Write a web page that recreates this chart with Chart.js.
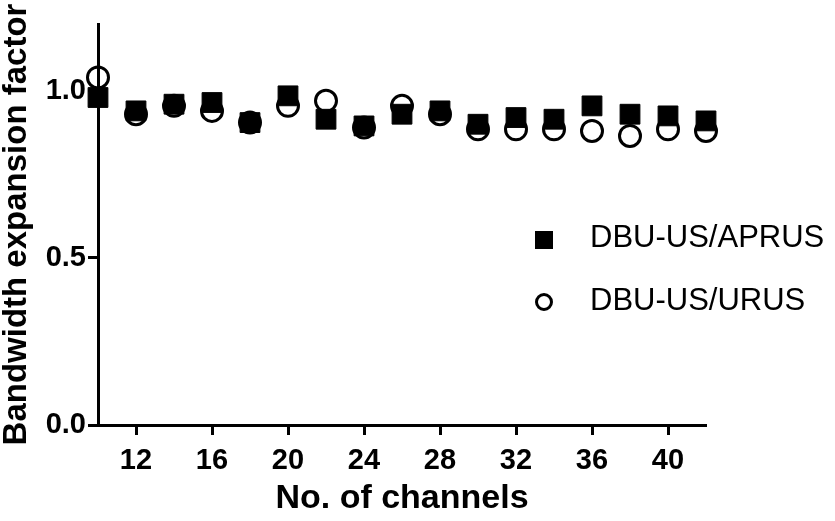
<!DOCTYPE html>
<html>
<head>
<meta charset="utf-8">
<script src="https://cdn.jsdelivr.net/npm/chart.js@4.4.1/dist/chart.umd.min.js"></script>
<style>
  body { margin: 0; background: #fff; }
  #wrap { position: relative; width: 835px; height: 521px; }
  .legend-item { position: absolute; left: 535px; font: 31px "Liberation Sans", Arial, sans-serif; color: #000; line-height: 31px; }
  .legend-item .mark { position: absolute; left: 0; width: 18px; height: 18px; box-sizing: border-box; }
  .legend-item .txt { position: absolute; left: 55px; top: 0; white-space: nowrap; }
</style>
</head>
<body>
<div id="wrap">
  <canvas id="chart" width="835" height="521"></canvas>
  <div id="legend"></div>
</div>
<script>
const channels = [10, 12, 14, 16, 18, 20, 22, 24, 26, 28, 30, 32, 34, 36, 38, 40, 42];
const aprus = [0.98, 0.94, 0.96, 0.965, 0.905, 0.985, 0.915, 0.895, 0.93, 0.94, 0.90, 0.92, 0.915, 0.955, 0.93, 0.925, 0.91];
const urus = [1.04, 0.93, 0.955, 0.94, 0.905, 0.955, 0.97, 0.89, 0.955, 0.93, 0.885, 0.885, 0.885, 0.88, 0.865, 0.885, 0.88];
const seriesNames = ['DBU-US/APRUS', 'DBU-US/URUS'];
const xTicks = [12, 16, 20, 24, 28, 32, 36, 40];
const yTicks = [0, 0.5, 1.0];

const fontFamily = '"Liberation Sans", Arial, sans-serif';

function toPoints(values) {
  return channels.map((c, i) => ({ x: c, y: values[i] }));
}

function axisGrid() {
  return {
    display: true,
    drawOnChartArea: false,
    drawTicks: true,
    tickLength: 10,
    tickWidth: 3,
    tickColor: '#000'
  };
}

const chart = new Chart(document.getElementById('chart'), {
  type: 'scatter',
  data: {
    datasets: [
      {
        label: seriesNames[0],
        data: toPoints(aprus),
        pointStyle: 'rect',
        pointRadius: 14,
        pointHoverRadius: 14,
        backgroundColor: '#000',
        borderColor: '#000',
        borderWidth: 1,
        clip: false
      },
      {
        label: seriesNames[1],
        data: toPoints(urus),
        pointStyle: 'circle',
        pointRadius: 10.5,
        pointHoverRadius: 10.5,
        backgroundColor: 'rgba(0,0,0,0)',
        borderColor: '#000',
        borderWidth: 3,
        clip: false
      }
    ]
  },
  options: {
    responsive: false,
    animation: false,
    layout: { padding: { top: 24, right: 129, bottom: 0, left: 0 } },
    plugins: {
      legend: { display: false },
      tooltip: { enabled: false }
    },
    scales: {
      x: {
        type: 'linear',
        min: 10,
        max: 42,
        afterBuildTicks: scale => { scale.ticks = xTicks.map(v => ({ value: v })); },
        afterFit: scale => { scale.height = 96; },
        ticks: {
          autoSkip: false,
          maxRotation: 0,
          padding: 9,
          color: '#000',
          font: { family: fontFamily, size: 29, weight: 'bold' }
        },
        grid: axisGrid(),
        border: { display: true, color: '#000', width: 3 },
        title: {
          display: true,
          text: 'No. of channels',
          color: '#000',
          font: { family: fontFamily, size: 34, weight: 'bold', lineHeight: 1 },
          padding: { top: 0, bottom: 5 }
        }
      },
      y: {
        min: 0,
        max: 1.2,
        afterBuildTicks: scale => { scale.ticks = yTicks.map(v => ({ value: v })); },
        afterFit: scale => { scale.width = 98; },
        ticks: {
          padding: 2,
          color: '#000',
          font: { family: fontFamily, size: 29, weight: 'bold' },
          callback: v => Number(v).toFixed(1)
        },
        grid: axisGrid(),
        border: { display: true, color: '#000', width: 3 },
        title: {
          display: true,
          text: 'Bandwidth expansion factor',
          color: '#000',
          font: { family: fontFamily, size: 33, weight: 'bold', lineHeight: 1 },
          padding: 0
        }
      }
    }
  }
});

// legend placed inside the plot like the original figure
const legendRows = [
  { top: 221, markTop: 10, style: 'background:#000;' },
  { top: 284, markTop: 9, style: 'border:3px solid #000;border-radius:50%;' }
];
const legend = document.getElementById('legend');
chart.data.datasets.forEach((ds, i) => {
  const row = legendRows[i];
  const item = document.createElement('div');
  item.className = 'legend-item';
  item.style.top = row.top + 'px';
  item.innerHTML = `<span class="mark" style="top:${row.markTop}px;${row.style}"></span><span class="txt">${ds.label}</span>`;
  legend.appendChild(item);
});
</script>
</body>
</html>
